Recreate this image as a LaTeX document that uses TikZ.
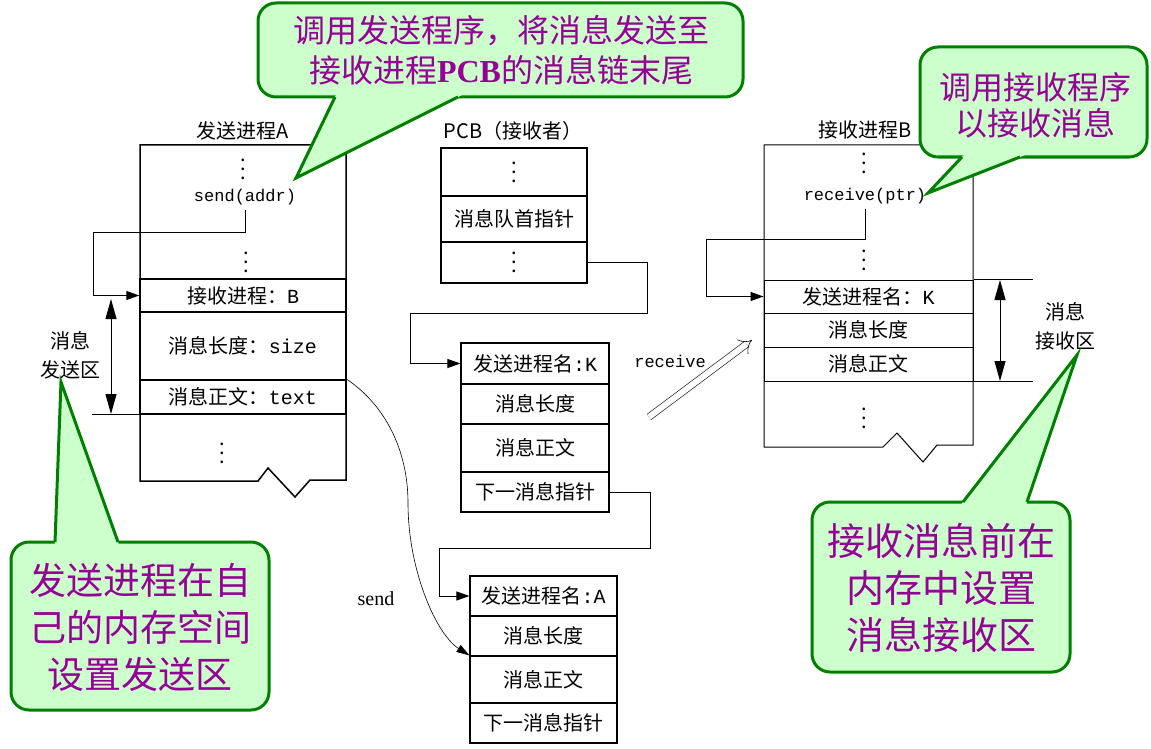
\documentclass[tikz,border=0pt]{standalone}
\usepackage{fontspec}
\usetikzlibrary{arrows.meta,calc}

\newfontfamily\cjk{Noto Sans CJK SC}
\newfontfamily\tnr{Liberation Serif}
\setmonofont{Liberation Mono}

\definecolor{bubblefill}{RGB}{204,255,204}
\definecolor{bubbleline}{RGB}{0,128,0}
\definecolor{bubbleink}{RGB}{150,0,150}

% three stacked dots
\newcommand{\tallvdots}{\vbox{\baselineskip=9pt\hbox{.}\hbox{.}\hbox{.}}}

% rounded box, base points of the pointer, tip
\newcommand{\speechbubble}[5]{%
  \draw[bubble] #1 rectangle #2;
  \fill[bubblefill] ($#3!-6pt!#5$) -- #5 -- ($#4!-6pt!#5$) -- cycle;
  \draw[bubbleleg] #3 -- #5 -- #4;
}

\tikzset{
  cell/.style={draw, line width=1.2pt, inner sep=0pt, font=\cjk\fontsize{20}{20}\selectfont},
  lbl/.style={font=\cjk\fontsize{20}{29}\selectfont, inner sep=0pt, align=center},
  code/.style={font=\ttfamily\fontsize{17}{17}\selectfont, inner sep=0pt},
  vdots/.style={font=\cjk\fontsize{20}{20}\selectfont, inner sep=0pt},
  link/.style={line width=1pt, -{Triangle[length=13pt,width=9pt]}},
  span/.style={line width=1pt, {Triangle[length=20pt,width=11pt]}-{Triangle[length=20pt,width=11pt]}},
  bubble/.style={fill=bubblefill, draw=bubbleline, line width=3pt, rounded corners=18pt},
  bubbleleg/.style={draw=bubbleline, line width=3pt, line join=miter},
  bubbletext/.style={text=bubbleink, align=center, inner sep=0pt},
}

\begin{document}
\begin{tikzpicture}[x=1pt,y=-1pt]
  \fill[white] (0,0) rectangle (1151,749);
  \useasboundingbox (0,0) rectangle (1151,749);

  % sending process A
  \node[lbl] (titleA) at (243,131) {发送进程A};
  \draw[line width=1.5pt] (140,145) -- (346,145) -- (346,480) -- (310,480) -- (295,497)
    -- (268,468) -- (258,481) -- (140,481) -- cycle;
  \node[vdots] (dA1) at (243,169) {\tallvdots};
  \node[code] (sendcall) at (245,197) {send(addr)};
  \node[vdots] (dA2) at (246,262) {\tallvdots};
  \begin{scope}[every node/.style={cell, line width=1.5pt, minimum width=206pt}]
    \node[minimum height=33pt] (rowB)    at (243,295.5) {接收进程：\texttt{B}};
    \node[minimum height=68pt] (rowSize) at (243,346)   {消息长度：\texttt{size}};
    \node[minimum height=34pt] (rowText) at (243,397)   {消息正文：\texttt{text}};
  \end{scope}
  \node[vdots] (dA3) at (222,453) {\tallvdots};
  \draw[line width=1pt] (rowText.south west) -- ++(-47,0);
  \draw[link] ([yshift=-5pt]sendcall.south) |- (93,232) |- (rowB.west);
  \coordinate (spanAtop) at (111,299);
  \coordinate (spanAbot) at (111,414);
  \draw[span] (spanAtop) -- (spanAbot);
  \node[lbl] (sendArea) at (70,355) {消息\\发送区};

  % PCB of the receiver
  \node[lbl] (titlePCB) at (513,131) {PCB（接收者）};
  \begin{scope}[every node/.style={cell, minimum width=146pt}]
    \node[minimum height=48pt] (pcb1) at (514,172)   {\tallvdots};
    \node[minimum height=46pt] (pcb2) at (514,219)   {消息队首指针};
    \node[minimum height=41pt] (pcb3) at (514,262.5) {\tallvdots};
  \end{scope}

  % message queue
  \begin{scope}[every node/.style={cell, minimum width=148pt}]
    \node[minimum height=41pt] (q1a) at (535,363.5) {发送进程名\texttt{:K}};
    \node[minimum height=40pt] (q1b) at (535,404)   {消息长度};
    \node[minimum height=48pt] (q1c) at (535,448)   {消息正文};
    \node[minimum height=40pt] (q1d) at (535,492)   {下一消息指针};
  \end{scope}
  \begin{scope}[every node/.style={cell, minimum width=147pt}]
    \node[minimum height=40pt] (q2a) at (543.5,596)   {发送进程名\texttt{:A}};
    \node[minimum height=40pt] (q2b) at (543.5,636)   {消息长度};
    \node[minimum height=47pt] (q2c) at (543.5,679.5) {消息正文};
    \node[minimum height=40pt] (q2d) at (543.5,723)   {下一消息指针};
  \end{scope}
  \draw[link] (pcb3.east) -| (647,313) -| ([xshift=-50pt]q1a.west) -- (q1a.west);
  \draw[link] (q1d.east) -| (650,548) -| ([xshift=-30pt]q2a.west) -- (q2a.west);

  % send / receive
  \draw[line width=0.6pt, -{Triangle[length=13pt,width=8pt]}] (rowText.north east)
    .. controls (385,405) and (408,450) .. (408,503)
    .. controls (408,570) and (436,634) .. (q2c.north west);
  \node[font=\tnr\fontsize{20}{20}\selectfont, inner sep=0pt] (sendlbl) at (376,599) {send};
  \node[code] (recvlbl) at (670,361) {receive};
  \coordinate (rcvfrom) at (649,417);
  \coordinate (rcvto) at (752,340);
  \draw[line width=0.6pt, double, double distance=6pt, -{Implies[length=11pt,width=24pt]}] (rcvfrom) -- (rcvto);

  % receiving process B
  \node[lbl] (titleB) at (865,130) {接收进程B};
  \draw[line width=1pt] (764,145) -- (973,145) -- (973,445) -- (937,445) -- (923,462)
    -- (897,433) -- (883,447) -- (764,447) -- cycle;
  \node[vdots] (dB1) at (864,163) {\tallvdots};
  \node[code] (recvcall) at (865,196) {receive(ptr)};
  \node[vdots] (dB2) at (864,260) {\tallvdots};
  \begin{scope}[every node/.style={cell, line width=1pt, minimum width=209pt}]
    \node[minimum height=33pt] (rowK)    at (868.5,296.5) {发送进程名：\texttt{K}};
    \node[minimum height=34pt] (rowLen)  at (868.5,330)   {消息长度};
    \node[minimum height=34pt] (rowBody) at (868.5,364)   {消息正文};
  \end{scope}
  \node[vdots] (dB3) at (864,418) {\tallvdots};
  \draw[line width=1pt] (rowK.north east) -- ++(59,0);
  \draw[line width=1pt] (rowBody.south east) -- ++(59,0);
  \draw[link] ([yshift=-5pt]recvcall.south) |- (706,239) |- (rowK.west);
  \coordinate (spanBtop) at (1000,280);
  \coordinate (spanBbot) at (1000,381);
  \draw[span] (spanBtop) -- (spanBbot);
  \node[lbl] (recvArea) at (1065,326) {消息\\接收区};

  % notes
  \speechbubble{(258,3)}{(743,97)}{(335,97)}{(458,97)}{(296,178)}
  \node[bubbletext, font=\cjk\fontsize{32}{40}\selectfont] (noteSend) at (501,50)
    {调用发送程序，将消息发送至\\接收进程{\tnr\bfseries PCB}的消息链末尾};
  \speechbubble{(920,47)}{(1147,157)}{(962,157)}{(1020,157)}{(928,193)}
  \node[bubbletext, font=\cjk\fontsize{32}{36}\selectfont] (noteRecv) at (1035,105)
    {调用接收程序\\以接收消息};
  \speechbubble{(11,542)}{(269,710)}{(55,542)}{(118,542)}{(61,382)}
  \node[bubbletext, font=\cjk\fontsize{37}{47}\selectfont] (noteSendArea) at (140,627)
    {发送进程在自\\己的内存空间\\设置发送区};
  \speechbubble{(812,502)}{(1070,672)}{(963,502)}{(1027,502)}{(1077,355)}
  \node[bubbletext, font=\cjk\fontsize{38}{47}\selectfont] (noteRecvArea) at (941,588)
    {接收消息前在\\内存中设置\\消息接收区};
\end{tikzpicture}
\end{document}
